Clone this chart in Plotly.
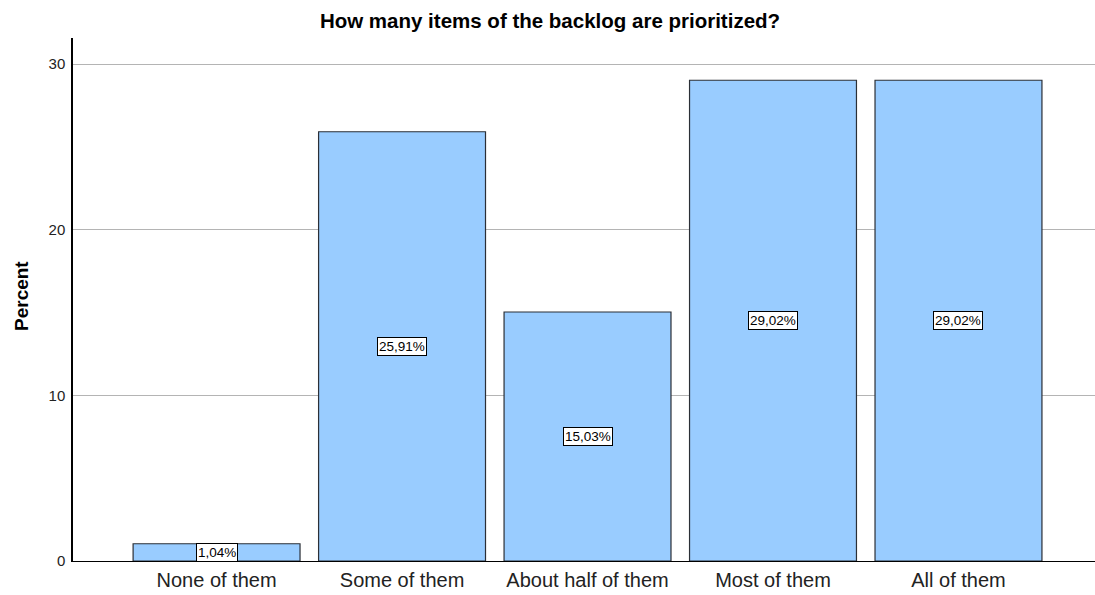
import plotly.graph_objects as go

categories = ["None of them", "Some of them", "About half of them", "Most of them", "All of them"]
percent = [1.04, 25.91, 15.03, 29.02, 29.02]
labels = ["1,04%", "25,91%", "15,03%", "29,02%", "29,02%"]
y_ticks = [0, 10, 20, 30]

FONT = "Arial, Liberation Sans, sans-serif"

fig = go.Figure()
fig.add_trace(go.Bar(
    x=list(range(len(categories))), y=percent,
    width=0.9,
    marker=dict(color="#99CCFF", line=dict(color="#2b2f36", width=1.2)),
    hoverinfo="skip",
))

annotations = []
for i, (v, t) in enumerate(zip(percent, labels)):
    annotations.append(dict(
        x=i, y=v / 2, xref="x", yref="y", text=t, showarrow=False,
        font=dict(family=FONT, size=13.5, color="#000"),
        bgcolor="#ffffff", bordercolor="#000000", borderwidth=1, borderpad=1,
    ))

annotations.append(dict(
    x=(21 - 73) / 1022, y=(561 - 296) / 523, xref="paper", yref="paper",
    text="<b>Percent</b>", textangle=-90, showarrow=False,
    xanchor="center", yanchor="middle",
    font=dict(family=FONT, size=19, color="#000"),
))

fig.update_layout(
    width=1095, height=595,
    margin=dict(l=73, r=0, t=38, b=34),
    paper_bgcolor="white", plot_bgcolor="white",
    showlegend=False,
    title=dict(text="<b>How many items of the backlog are prioritized?</b>",
               x=(550 - 0) / 1095, xanchor="center", y=1 - 21 / 595, yanchor="middle",
               font=dict(family=FONT, size=20.5, color="#000")),
    annotations=annotations,
    bargap=0.1,
)
fig.update_xaxes(
    range=[-0.774, 4.736],
    tickmode="array", tickvals=list(range(len(categories))), ticktext=categories,
    tickfont=dict(family=FONT, size=20, color="#222"),
    showgrid=False, showline=True, linecolor="#000", linewidth=1,
    ticks="outside", ticklen=1, tickcolor="white",
    zeroline=False,
)
fig.update_yaxes(
    range=[0, 31.57],
    tickmode="array", tickvals=y_ticks,
    tickfont=dict(family=FONT, size=15, color="#222"),
    showgrid=True, gridcolor="#b4b4b4", gridwidth=1,
    showline=True, linecolor="#000", linewidth=1.5,
    ticks="outside", ticklen=3, tickcolor="white",
    zeroline=False,
)

fig.write_html("out.html")
